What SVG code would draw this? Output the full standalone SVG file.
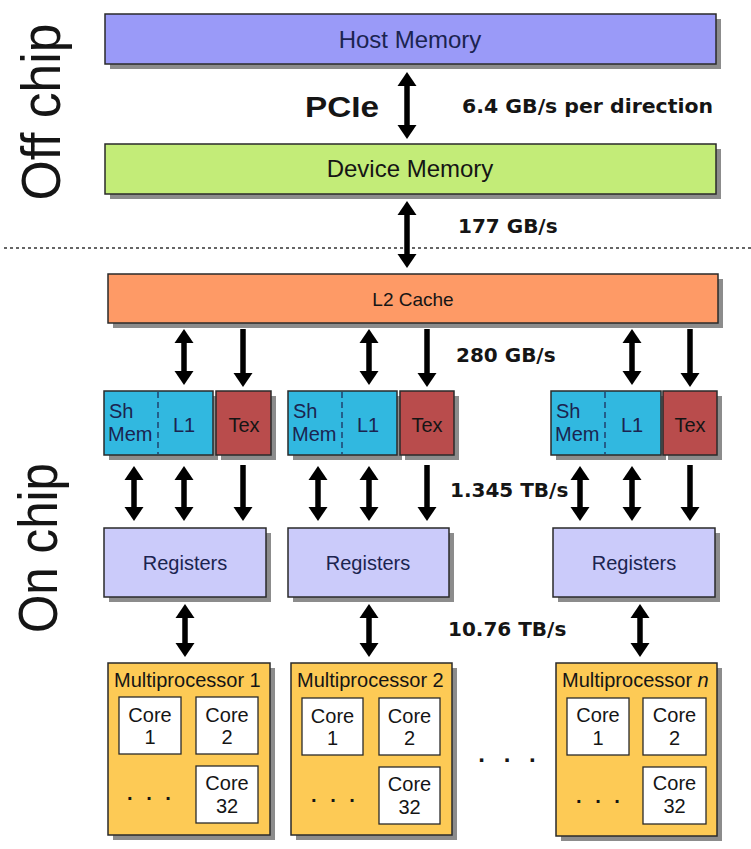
<svg xmlns="http://www.w3.org/2000/svg" width="751" height="849" viewBox="0 0 751 849">
<defs>
<style>
text{font-family:"Liberation Sans",Arial,sans-serif;fill:#151515}
.sh{fill:#8c8c8c}
.bx{stroke:#2a2a2a;stroke-width:1.5}
.host{fill:#9a9af8}
.dev{fill:#c3ec78}
.l2{fill:#fe9a66}
.smem{fill:#31b8e0}
.tex{fill:#b94c4c}
.reg{fill:#cbcbfa}
.mp{fill:#fdca55}
.core{fill:#fff;stroke:#2a2a2a;stroke-width:1.3}
.side{font-size:55px}
.big{font-size:24px}
.lbl{font-size:20px}
.bw{font-family:"DejaVu Sans",Verdana,sans-serif;font-weight:bold;font-size:20px}
.navy{fill:#1b2450}
.a1,.a2{stroke:#000;stroke-width:5.5;fill:none}
.a1{marker-end:url(#ah)}
.a2{marker-start:url(#ah);marker-end:url(#ah)}
.div{stroke:#1b2450;stroke-width:1.2;stroke-dasharray:6,4}
</style>
<marker id="ah" markerUnits="userSpaceOnUse" viewBox="0 -10 14 20" refX="1" refY="0" markerWidth="14" markerHeight="20" orient="auto-start-reverse">
<path d="M0,-9.5 L14,0 L0,9.5 Z" fill="#000"/>
</marker>
</defs>
<rect width="751" height="849" fill="#fff"/>

<g id="labels-side">
<text class="side" text-anchor="middle" textLength="177" lengthAdjust="spacingAndGlyphs" transform="translate(60,112) rotate(-90)">Off chip</text>
<text class="side" text-anchor="middle" textLength="170" lengthAdjust="spacingAndGlyphs" transform="translate(57,548) rotate(-90)">On chip</text>
</g>

<line x1="4" y1="248" x2="751" y2="248" stroke="#333" stroke-width="1.6" stroke-dasharray="3,3"/>

<g id="host-memory">
<rect class="sh" x="110" y="19" width="611" height="50"/>
<rect class="bx host" x="105" y="14" width="611" height="50"/>
<text class="big navy" x="410" y="48" text-anchor="middle">Host Memory</text>
</g>

<g id="device-memory">
<rect class="sh" x="110" y="149" width="611" height="50"/>
<rect class="bx dev" x="105" y="144" width="611" height="50"/>
<text class="big" x="410" y="177" text-anchor="middle">Device Memory</text>
</g>

<g id="l2-cache">
<rect class="sh" x="113" y="279" width="610" height="49"/>
<rect class="bx l2" x="108" y="274" width="610" height="49"/>
<text x="413" y="306" text-anchor="middle" font-size="19px" fill="#2a1a10">L2 Cache</text>
</g>

<g id="smem-l1-1">
<rect class="sh" x="109" y="396" width="109" height="64"/>
<rect class="bx smem" x="104" y="391" width="109" height="64"/>
<line class="div" x1="158" y1="392" x2="158" y2="454"/>
<text class="lbl navy" x="109" y="418">Sh</text>
<text class="lbl navy" x="108" y="441">Mem</text>
<text class="lbl navy" x="184" y="432" text-anchor="middle">L1</text>
</g>
<g id="tex-1">
<rect class="sh" x="221" y="396" width="55" height="64"/>
<rect class="bx tex" x="216" y="391" width="55" height="64"/>
<text class="lbl" x="244" y="432" text-anchor="middle" fill="#2a0c0c">Tex</text>
</g>

<g id="smem-l1-2">
<rect class="sh" x="293" y="396" width="109" height="64"/>
<rect class="bx smem" x="288" y="391" width="109" height="64"/>
<line class="div" x1="342" y1="392" x2="342" y2="454"/>
<text class="lbl navy" x="293" y="418">Sh</text>
<text class="lbl navy" x="292" y="441">Mem</text>
<text class="lbl navy" x="368" y="432" text-anchor="middle">L1</text>
</g>
<g id="tex-2">
<rect class="sh" x="405" y="396" width="54" height="64"/>
<rect class="bx tex" x="400" y="391" width="54" height="64"/>
<text class="lbl" x="427" y="432" text-anchor="middle" fill="#2a0c0c">Tex</text>
</g>

<g id="smem-l1-n">
<rect class="sh" x="556" y="396" width="110" height="64"/>
<rect class="bx smem" x="551" y="391" width="110" height="64"/>
<line class="div" x1="605" y1="392" x2="605" y2="454"/>
<text class="lbl navy" x="556" y="418">Sh</text>
<text class="lbl navy" x="555" y="441">Mem</text>
<text class="lbl navy" x="632" y="432" text-anchor="middle">L1</text>
</g>
<g id="tex-n">
<rect class="sh" x="668" y="396" width="54" height="64"/>
<rect class="bx tex" x="663" y="391" width="54" height="64"/>
<text class="lbl" x="690" y="432" text-anchor="middle" fill="#2a0c0c">Tex</text>
</g>

<g id="registers-1">
<rect class="sh" x="109" y="533" width="162" height="69"/>
<rect class="bx reg" x="104" y="528" width="162" height="69"/>
<text class="lbl navy" x="185" y="570" text-anchor="middle">Registers</text>
</g>
<g id="registers-2">
<rect class="sh" x="293" y="533" width="161" height="69"/>
<rect class="bx reg" x="288" y="528" width="161" height="69"/>
<text class="lbl navy" x="368" y="570" text-anchor="middle">Registers</text>
</g>
<g id="registers-n">
<rect class="sh" x="558" y="533" width="162" height="69"/>
<rect class="bx reg" x="553" y="528" width="162" height="69"/>
<text class="lbl navy" x="634" y="570" text-anchor="middle">Registers</text>
</g>

<g id="multiprocessor-1">
<rect class="sh" x="113" y="668" width="162" height="172"/>
<rect class="bx mp" x="108" y="663" width="162" height="172"/>
<text class="lbl" x="114" y="687" fill="#2a1a00">Multiprocessor 1</text>
<rect class="core" x="119" y="697" width="62" height="57"/>
<text class="lbl" x="150" y="722" text-anchor="middle">Core</text>
<text class="lbl" x="150" y="744" text-anchor="middle">1</text>
<rect class="core" x="196" y="697" width="62" height="57"/>
<text class="lbl" x="227" y="722" text-anchor="middle">Core</text>
<text class="lbl" x="227" y="744" text-anchor="middle">2</text>
<rect class="core" x="196" y="766" width="62" height="57"/>
<text class="lbl" x="227" y="790" text-anchor="middle">Core</text>
<text class="lbl" x="227" y="813" text-anchor="middle">32</text>
<text class="lbl" x="151" y="800" text-anchor="middle" letter-spacing="4" font-weight="bold">. . .</text>
</g>

<g id="multiprocessor-2">
<rect class="sh" x="296" y="668" width="161" height="172"/>
<rect class="bx mp" x="291" y="663" width="161" height="172"/>
<text class="lbl" x="297" y="687" fill="#2a1a00">Multiprocessor 2</text>
<rect class="core" x="302" y="698" width="61" height="57"/>
<text class="lbl" x="332.5" y="723" text-anchor="middle">Core</text>
<text class="lbl" x="332.5" y="745" text-anchor="middle">1</text>
<rect class="core" x="379" y="698" width="61" height="57"/>
<text class="lbl" x="409.5" y="723" text-anchor="middle">Core</text>
<text class="lbl" x="409.5" y="745" text-anchor="middle">2</text>
<rect class="core" x="379" y="767" width="61" height="57"/>
<text class="lbl" x="409.5" y="791" text-anchor="middle">Core</text>
<text class="lbl" x="409.5" y="814" text-anchor="middle">32</text>
<text class="lbl" x="335" y="802" text-anchor="middle" letter-spacing="4" font-weight="bold">. . .</text>
</g>

<g id="multiprocessor-n">
<rect class="sh" x="561" y="668" width="161" height="173"/>
<rect class="bx mp" x="556" y="663" width="161" height="173"/>
<text class="lbl" x="562" y="687" fill="#2a1a00">Multiprocessor <tspan font-style="italic">n</tspan></text>
<rect class="core" x="567" y="698" width="62" height="57"/>
<text class="lbl" x="598" y="722" text-anchor="middle">Core</text>
<text class="lbl" x="598" y="745" text-anchor="middle">1</text>
<rect class="core" x="643" y="698" width="63" height="57"/>
<text class="lbl" x="674.5" y="722" text-anchor="middle">Core</text>
<text class="lbl" x="674.5" y="745" text-anchor="middle">2</text>
<rect class="core" x="643" y="767" width="63" height="57"/>
<text class="lbl" x="674.5" y="790" text-anchor="middle">Core</text>
<text class="lbl" x="674.5" y="813" text-anchor="middle">32</text>
<text class="lbl" x="600" y="803" text-anchor="middle" letter-spacing="4" font-weight="bold">. . .</text>
</g>

<text id="dots-between" x="510" y="762" font-size="24px" font-weight="bold" text-anchor="middle" letter-spacing="6">. . .</text>

<g id="connectors">
<line class="a2" x1="407" y1="85" x2="407" y2="126"/>
<line class="a2" x1="407" y1="214" x2="407" y2="255"/>
<line class="a2" x1="184" y1="342" x2="184" y2="372"/>
<line class="a1" x1="243" y1="329" x2="243" y2="374"/>
<line class="a2" x1="369" y1="342" x2="369" y2="372"/>
<line class="a1" x1="427" y1="329" x2="427" y2="374"/>
<line class="a2" x1="632" y1="342" x2="632" y2="372"/>
<line class="a1" x1="690" y1="329" x2="690" y2="374"/>
<line class="a2" x1="134" y1="479" x2="134" y2="508"/>
<line class="a2" x1="184" y1="479" x2="184" y2="508"/>
<line class="a1" x1="243" y1="465" x2="243" y2="508"/>
<line class="a2" x1="318" y1="479" x2="318" y2="508"/>
<line class="a2" x1="369" y1="479" x2="369" y2="508"/>
<line class="a1" x1="427" y1="465" x2="427" y2="508"/>
<line class="a2" x1="580" y1="479" x2="580" y2="508"/>
<line class="a2" x1="632" y1="479" x2="632" y2="508"/>
<line class="a1" x1="690" y1="465" x2="690" y2="508"/>
<line class="a2" x1="185" y1="617" x2="185" y2="644"/>
<line class="a2" x1="369" y1="617" x2="369" y2="644"/>
<line class="a2" x1="640" y1="617" x2="640" y2="644"/>
</g>

<g id="bandwidth-labels">
<text x="305" y="117" font-family="DejaVu Sans, Verdana, sans-serif" font-weight="bold" font-size="29px" textLength="74" lengthAdjust="spacingAndGlyphs">PCIe</text>
<text class="bw" x="462" y="113" textLength="251" lengthAdjust="spacingAndGlyphs">6.4 GB/s per direction</text>
<text class="bw" x="458" y="233">177 GB/s</text>
<text class="bw" x="456" y="362">280 GB/s</text>
<text class="bw" x="450" y="497">1.345 TB/s</text>
<text class="bw" x="448" y="636">10.76 TB/s</text>
</g>
</svg>
